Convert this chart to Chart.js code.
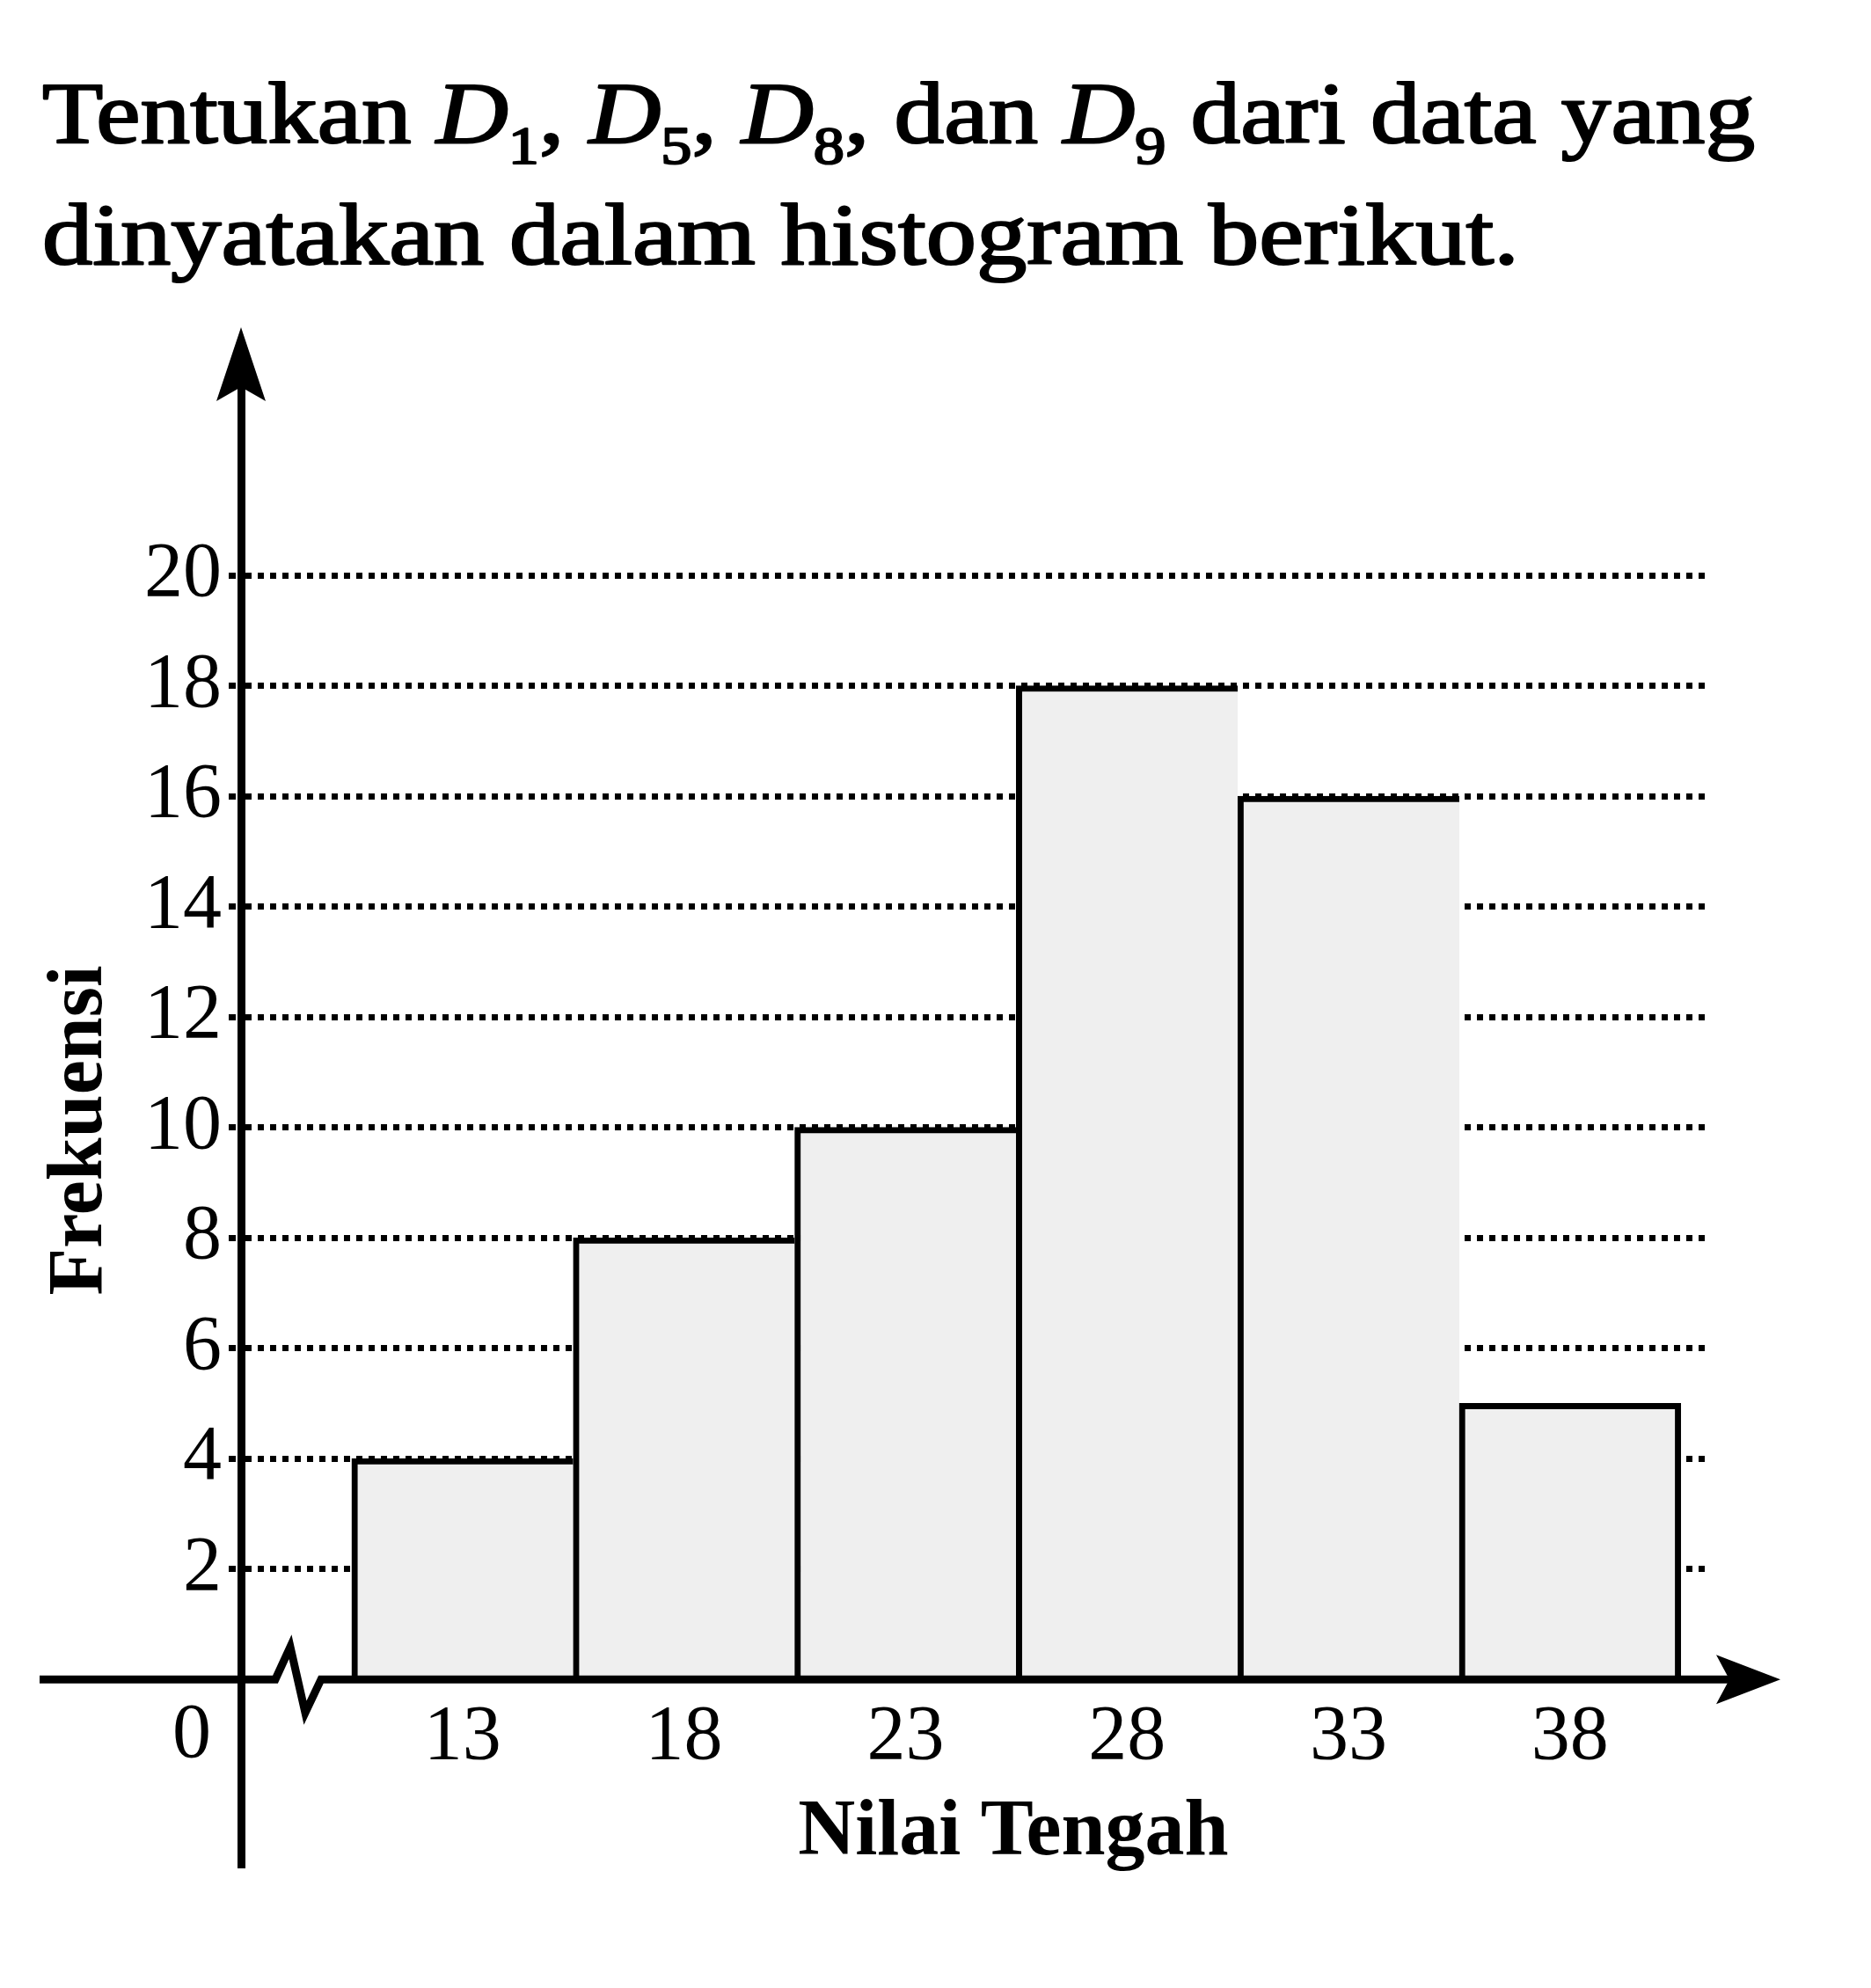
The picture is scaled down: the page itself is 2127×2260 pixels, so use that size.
<!DOCTYPE html>
<html>
<head>
<meta charset="utf-8">
<script src="https://cdn.jsdelivr.net/npm/chart.js@4.4.1/dist/chart.umd.min.js"></script>
<style>
  html, body { margin: 0; padding: 0; background: #fff; }
  #wrap { position: relative; width: 2127px; height: 2260px; }
</style>
</head>
<body>
<div id="wrap"><canvas id="histChart"></canvas></div>
<script>
// data
const nilaiTengah = [13, 18, 23, 28, 33, 38];
const frekuensi = [4, 8, 10, 18, 16, 5];
const yTickValues = [2, 4, 6, 8, 10, 12, 14, 16, 18, 20];
const xAxisLabel = 'Nilai Tengah';
const yAxisLabel = 'Frekuensi';
const originLabel = '0';

// question text, italic D with subscript numbers
const titleLine1 = [
    { t: 'Tentukan ' }, { t: 'D', italic: true }, { t: '1', sub: true },
    { t: ', ' }, { t: 'D', italic: true }, { t: '5', sub: true },
    { t: ', ' }, { t: 'D', italic: true }, { t: '8', sub: true },
    { t: ', dan ' }, { t: 'D', italic: true }, { t: '9', sub: true },
    { t: ' dari data yang' }
];
const titleLine2 = [{ t: 'dinyatakan dalam histogram berikut.' }];

const serif = '"Liberation Serif", "Times New Roman", serif';

function drawRuns(ctx, runs, x, y, targetWidth, size) {
    const fontFor = r => r.sub ? `${Math.round(size * 0.62)}px ${serif}`
        : (r.italic ? `italic ${size}px ${serif}` : `${size}px ${serif}`);
    let w = 0;
    runs.forEach(r => { ctx.font = fontFor(r); r.w = ctx.measureText(r.t).width; w += r.w; });
    const sx = targetWidth / w;
    ctx.save();
    ctx.translate(x, y);
    ctx.scale(sx, 1);
    ctx.textBaseline = 'alphabetic';
    ctx.textAlign = 'left';
    ctx.lineWidth = 2.2;
    ctx.strokeStyle = '#000';
    ctx.lineJoin = 'round';
    let cx = 0;
    runs.forEach(r => {
        ctx.font = fontFor(r);
        const dy = r.sub ? size * 0.24 : 0;
        ctx.fillText(r.t, cx, dy);
        ctx.strokeText(r.t, cx, dy);
        cx += r.w;
    });
    ctx.restore();
}

// axes with arrows, the axis break and the free text
const decorations = {
    id: 'decorations',
    afterDatasetsDraw(chart) {
        const ctx = chart.ctx;
        const area = chart.chartArea;
        const y0 = chart.scales.y.getPixelForValue(0);
        const xa = area.left;
        ctx.save();
        ctx.strokeStyle = '#000';
        ctx.fillStyle = '#000';
        ctx.lineWidth = 9;
        ctx.lineJoin = 'miter';

        // horizontal axis with zigzag break
        ctx.beginPath();
        ctx.moveTo(45, y0);
        ctx.lineTo(xa + 39, y0);
        ctx.lineTo(xa + 56, y0 - 37);
        ctx.lineTo(xa + 73, y0 + 38);
        ctx.lineTo(xa + 91, y0);
        ctx.lineTo(1966, y0);
        ctx.stroke();

        // arrow on the right
        ctx.beginPath();
        ctx.moveTo(2024, y0);
        ctx.lineTo(1951, y0 - 28);
        ctx.lineTo(1966, y0);
        ctx.lineTo(1951, y0 + 28);
        ctx.closePath();
        ctx.fill();

        // arrow on top of the vertical axis
        ctx.beginPath();
        ctx.moveTo(xa, 372);
        ctx.lineTo(xa + 28, 456);
        ctx.lineTo(xa, area.top);
        ctx.lineTo(xa - 28, 456);
        ctx.closePath();
        ctx.fill();
        ctx.restore();
    },
    afterDraw(chart) {
        const ctx = chart.ctx;
        const area = chart.chartArea;
        const y0 = chart.scales.y.getPixelForValue(0);
        ctx.save();
        ctx.fillStyle = '#000';

        drawRuns(ctx, titleLine1, 48, 162, 1947, 100);
        drawRuns(ctx, titleLine2, 48, 300, 1679, 100);

        ctx.font = `88px ${serif}`;
        ctx.textAlign = 'center';
        ctx.textBaseline = 'alphabetic';
        ctx.fillText(originLabel, area.left - 56, y0 + 88);

        ctx.font = `bold 90px ${serif}`;
        ctx.fillText(xAxisLabel, 1152, 2108);

        ctx.translate(115, 1285);
        ctx.rotate(-Math.PI / 2);
        ctx.font = `bold 88px ${serif}`;
        ctx.fillText(yAxisLabel, 0, 0);
        ctx.restore();
    }
};

const ctx = document.getElementById('histChart').getContext('2d');
const histChart = new Chart(ctx, {
    type: 'bar',
    data: {
        datasets: [{
            label: yAxisLabel,
            data: nilaiTengah.map((x, i) => ({ x: x, y: frekuensi[i] })),
            backgroundColor: '#efefef',
            borderColor: '#000',
            borderWidth: c => ({ top: 7, left: 7, bottom: 0, right: c.dataIndex === frekuensi.length - 1 ? 7 : 0 }),
            borderSkipped: false,
            barPercentage: 1,
            categoryPercentage: 1
        }]
    },
    options: {
        responsive: true,
        maintainAspectRatio: false,
        animation: false,
        devicePixelRatio: 1,
        layout: { padding: { left: 0, right: 185, top: 440, bottom: 140 } },
        plugins: {
            legend: { display: false },
            tooltip: { enabled: false }
        },
        scales: {
            x: {
                type: 'linear',
                position: { y: 0 },
                min: 8,
                max: 41.12,
                offset: false,
                grid: { display: false },
                border: { display: false },
                afterBuildTicks: s => { s.ticks = nilaiTengah.map(v => ({ value: v })); },
                ticks: {
                    color: '#000',
                    font: { family: serif, size: 88 },
                    padding: 6,
                    maxRotation: 0,
                    autoSkip: false
                }
            },
            y: {
                type: 'linear',
                position: 'left',
                min: -3.36,
                max: 23.41,
                afterBuildTicks: s => { s.ticks = yTickValues.map(v => ({ value: v })); },
                afterFit: s => { s.width = 274; },
                grid: {
                    color: '#000',
                    lineWidth: 7,
                    tickLength: 14,
                    tickColor: '#000',
                    tickWidth: 7,
                    tickBorderDash: [8, 6]
                },
                border: { display: true, color: '#000', width: 9, dash: [7, 7] },
                ticks: {
                    color: '#000',
                    font: { family: serif, size: 88 },
                    padding: 8
                }
            }
        }
    },
    plugins: [decorations]
});
</script>
</body>
</html>
